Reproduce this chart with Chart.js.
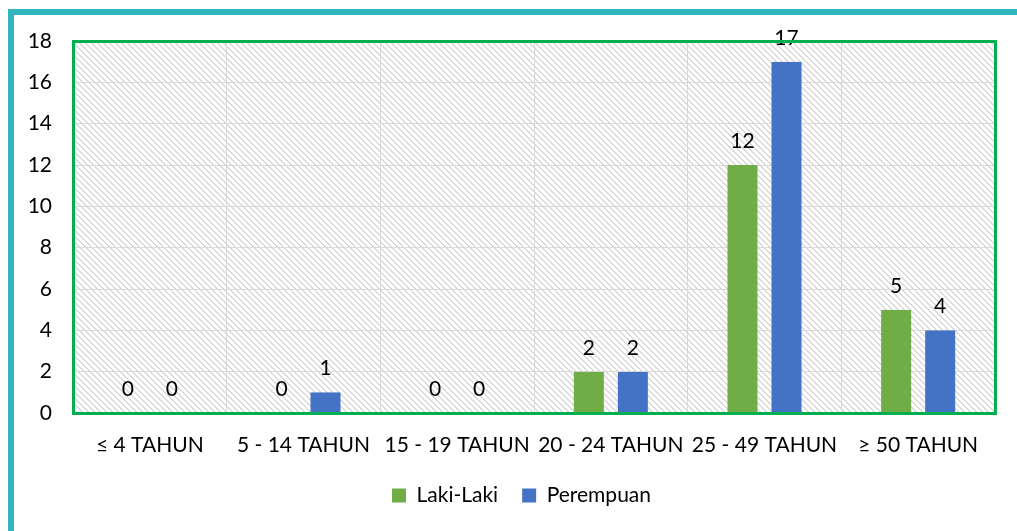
<!DOCTYPE html>
<html>
<head>
<meta charset="utf-8">
<script src="https://cdn.jsdelivr.net/npm/chart.js@4"></script>
<style>
html,body{margin:0;padding:0;background:#fff;}
#wrap{position:relative;width:1017px;height:531px;}
canvas{display:block;}
</style>
</head>
<body>
<div id="wrap"><canvas id="c" width="1017" height="531"></canvas></div>
<script>
const categories = ['≤ 4 TAHUN', '5 - 14 TAHUN', '15 - 19 TAHUN', '20 - 24 TAHUN', '25 - 49 TAHUN', '≥ 50 TAHUN'];
const lakiLaki = [0, 0, 0, 2, 12, 5];
const perempuan = [0, 1, 0, 2, 17, 4];
const seriesNames = ['Laki-Laki', 'Perempuan'];
const yTicks = [0, 2, 4, 6, 8, 10, 12, 14, 16, 18];

const FONT = 'Lato, "Open Sans", sans-serif';
const FS = 21;

function makeHatch() {
  const p = 6;
  const c = document.createElement('canvas');
  c.width = p; c.height = p;
  const x = c.getContext('2d');
  x.fillStyle = '#ffffff';
  x.fillRect(0, 0, p, p);
  x.fillStyle = '#dadada';
  for (let i = 0; i < p; i++) {
    for (let j = 0; j < p; j++) {
      const d = ((i - j) % p + p) % p;
      if (d === 0 || d === 1) x.fillRect(i, j, 1, 1);
    }
  }
  return c;
}

const framePlugin = {
  id: 'frame',
  afterLayout(chart) {
    if (chart.legend) {
      chart.legend.left += 17;
      chart.legend.right += 17;
    }
  },
  beforeDraw(chart) {
    const ctx = chart.ctx;
    const a = chart.chartArea;
    ctx.save();
    ctx.fillStyle = '#ffffff';
    ctx.fillRect(0, 0, chart.width, chart.height);
    ctx.fillStyle = '#31b6bd';
    ctx.fillRect(8, 9, chart.width - 8, 6);
    ctx.fillRect(8, 9, 6, chart.height - 9);
    const pat = ctx.createPattern(makeHatch(), 'repeat');
    ctx.fillStyle = pat;
    ctx.fillRect(a.left, a.top, a.right - a.left, a.bottom - a.top);
    ctx.restore();
  },
  afterDatasetsDraw(chart) {
    const ctx = chart.ctx;
    ctx.save();
    ctx.font = FS + 'px ' + FONT;
    ctx.fillStyle = '#000';
    ctx.textAlign = 'center';
    ctx.textBaseline = 'alphabetic';
    chart.data.datasets.forEach((ds, di) => {
      const meta = chart.getDatasetMeta(di);
      meta.data.forEach((bar, i) => {
        ctx.fillText(String(ds.data[i]), bar.x, bar.y - 17);
      });
    });
    ctx.restore();
  },
  afterDraw(chart) {
    const ctx = chart.ctx;
    const a = chart.chartArea;
    ctx.save();
    ctx.strokeStyle = '#00b050';
    ctx.lineWidth = 3;
    ctx.strokeRect(a.left + 0.5, a.top + 0.5, a.right - a.left, a.bottom - a.top);
    ctx.restore();
  }
};

const barBorder = {left: 7, right: 7, top: 0, bottom: 0};

new Chart(document.getElementById('c'), {
  type: 'bar',
  data: {
    labels: categories,
    datasets: [
      {label: seriesNames[0], data: lakiLaki, backgroundColor: '#70ad47', borderColor: 'rgba(0,0,0,0)', borderWidth: barBorder, borderSkipped: 'bottom'},
      {label: seriesNames[1], data: perempuan, backgroundColor: '#4472c4', borderColor: 'rgba(0,0,0,0)', borderWidth: barBorder, borderSkipped: 'bottom'}
    ]
  },
  options: {
    responsive: false,
    animation: false,
    devicePixelRatio: 1,
    layout: {padding: {left: 14, top: 41, right: 22, bottom: 15}},
    datasets: {bar: {categoryPercentage: 0.573, barPercentage: 1.0}},
    plugins: {
      legend: {
        position: 'bottom',
        labels: {
          font: {family: FONT, size: FS},
          color: '#000',
          boxWidth: 14,
          boxHeight: 14,
          padding: 24
        }
      },
      tooltip: {enabled: false}
    },
    scales: {
      x: {
        grid: {color: '#d9d9d9', lineWidth: 1, drawTicks: false, offset: true},
        border: {display: false},
        ticks: {font: {family: FONT, size: FS}, color: '#000', padding: 20, maxRotation: 0, autoSkip: false},
        afterFit(s) { s.height = 48; }
      },
      y: {
        min: 0, max: 18,
        afterBuildTicks(s) { s.ticks = yTicks.map(v => ({value: v})); },
        grid: {color: '#d9d9d9', lineWidth: 1, drawTicks: false},
        border: {display: false},
        ticks: {font: {family: FONT, size: FS}, color: '#000', padding: 21},
        afterFit(s) { s.width = 59; }
      }
    }
  },
  plugins: [framePlugin]
});
</script>
</body>
</html>
